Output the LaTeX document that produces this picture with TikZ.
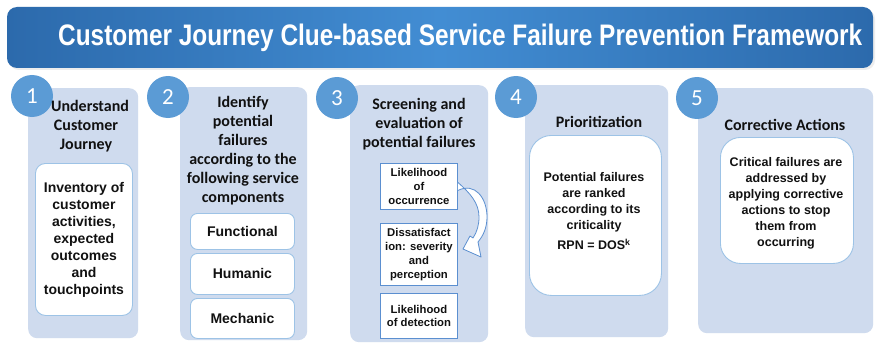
\documentclass[tikz,border=0pt]{standalone}
\usepackage{fontspec}
\setmainfont{Liberation Sans}
\newfontfamily\headfont{Carlito}
\usetikzlibrary{positioning}

\definecolor{bannerdark}{HTML}{2C6AAC}
\definecolor{bannerlight}{HTML}{428DD3}
\definecolor{panelblue}{HTML}{CFDBEE}
\definecolor{discblue}{HTML}{5B9BD5}
\definecolor{cardline}{HTML}{9DC3E6}
\definecolor{boxline}{HTML}{5B8FD0}
\definecolor{inktext}{HTML}{111111}

\begin{document}
\begin{tikzpicture}[x=1pt,y=-1pt,
  panel/.style={fill=panelblue, draw=none, rounded corners=9pt, anchor=north west, inner sep=0pt},
  numdisc/.style={circle, fill=discblue, minimum size=42pt, inner sep=0pt, text=white,
    font=\headfont\fontsize{23}{23}\selectfont},
  heading/.style={font=\headfont\bfseries\fontsize{16}{19}\selectfont, align=center,
    inner sep=0pt, text=inktext},
  card/.style={draw=cardline, fill=white, line width=0.9pt, anchor=north west, inner sep=0pt},
  sqbox/.style={draw=boxline, fill=white, line width=0.9pt, anchor=north west, inner sep=0pt},
  cardtext/.style={align=center, inner sep=0pt, text=inktext, font=\bfseries\fontsize{12.5}{16}\selectfont},
  smalltext/.style={align=center, inner sep=0pt, text=inktext, font=\bfseries\fontsize{11.3}{13.8}\selectfont},
  arrowband/.style={fill=white, draw=boxline, line width=0.8pt, line join=round}
]
\useasboundingbox (0,0) rectangle (878,345);
\fill[white] (0,0) rectangle (878,345);

% title banner with a faint drop shadow
\fill[black!7, rounded corners=10pt] (9,9) rectangle (875,70);
\shade[rounded corners=10pt, left color=bannerdark, right color=bannerdark, middle color=bannerlight]
  (7,7) rectangle (873,68);
\node (title) [anchor=base west, inner sep=0pt, text=white] at (58,46)
  {\resizebox{804pt}{21.5pt}{\bfseries Customer Journey Clue-based Service Failure Prevention Framework}};

% five step panels
\node (p1) [panel, minimum width=110pt, minimum height=250pt] at (28,88) {};
\node (p2) [panel, minimum width=127pt, minimum height=253pt] at (180,87) {};
\node (p3) [panel, minimum width=138pt, minimum height=257pt] at (350,85) {};
\node (p4) [panel, minimum width=143pt, minimum height=252pt] at (525,85) {};
\node (p5) [panel, minimum width=175pt, minimum height=245pt] at (698,88) {};

% numbered discs
\node (n1) [numdisc] at (32,96) {1};
\node (n2) [numdisc] at (168,97) {2};
\node (n3) [numdisc] at (337,98) {3};
\node (n4) [numdisc] at (516,97) {4};
\node (n5) [numdisc] at (697,98) {5};

% panel headings
\node (h1) [heading, anchor=north] at (86,100) {\hspace*{8pt}Understand\\Customer\\Journey};
\node (h2) [heading, anchor=north] at (243,96) {Identify\\potential\\failures\\according to the\\following service\\components};
\node (h3) [heading, anchor=north] at (419,98) {Screening and\\evaluation of\\potential failures};
\node (h4) [heading] at (599,122) {Prioritization};
\node (h5) [heading] at (785,125) {Corrective Actions};

% step 1 card
\node (c1) [card, rounded corners=10pt, minimum width=97pt, minimum height=152pt] at (35,163) {};
\node (t1) [cardtext, font=\bfseries\fontsize{14}{17}\selectfont] at (c1.center)
  {Inventory of\\customer\\activities,\\expected\\outcomes\\and\\touchpoints};

% step 2 service components
\node (f2) [card, rounded corners=7pt, minimum width=104pt, minimum height=36pt] at (190,213) {};
\node (u2) [card, rounded corners=7pt, minimum width=104pt, minimum height=41pt] at (190,253) {};
\node (m2) [card, rounded corners=7pt, minimum width=104pt, minimum height=40pt] at (190,298) {};
\node [cardtext, font=\bfseries\fontsize{14}{16}\selectfont] at (f2.center) {Functional};
\node [cardtext, font=\bfseries\fontsize{14}{16}\selectfont] at (u2.center) {Humanic};
\node [cardtext, font=\bfseries\fontsize{14}{16}\selectfont] at (m2.center) {Mechanic};

% step 3 evaluation boxes
\node (o3) [sqbox, minimum width=77pt, minimum height=46pt] at (380,163) {};
\node (d3) [sqbox, minimum width=77pt, minimum height=62pt] at (380,223) {};
\node (l3) [sqbox, minimum width=77pt, minimum height=45pt] at (380,293) {};
\node [smalltext] at (o3.center) {Likelihood\\of\\occurrence};
\node [smalltext] at (d3.center) {Dissatisfact\\ion: severity\\and\\perception};
\node [smalltext] at (l3.center) {Likelihood\\of detection};

% curved block arrow from occurrence to dissatisfaction
\coordinate (arrstart) at (o3.east);
\draw[arrowband]
  ([yshift=-4pt]arrstart) .. controls (475,182) and (487,198) .. (487,217)
  .. controls (487,228) and (483,236) .. (478,242)
  -- (481,257) -- (463,249) -- (470,236) -- (473,238)
  .. controls (477,232) and (479,225) .. (479,217)
  .. controls (479,203) and (470,193) .. ([yshift=4pt]arrstart);

% step 4 card
\node (c4) [card, rounded corners=22pt, minimum width=132pt, minimum height=160pt] at (529,135) {};
\node (t4) [cardtext, anchor=north] at (594,172)
  {Potential failures\\are ranked\\according to its\\criticality};
\node (r4) [cardtext, below=7pt of t4] {RPN = DOS\textsuperscript{k}};

% step 5 card
\node (c5) [card, rounded corners=20pt, minimum width=133pt, minimum height=126pt] at (720,137) {};
\node (t5) [cardtext, anchor=north] at (786,157)
  {Critical failures are\\addressed by\\applying corrective\\actions to stop\\them from\\occurring};
\end{tikzpicture}
\end{document}
